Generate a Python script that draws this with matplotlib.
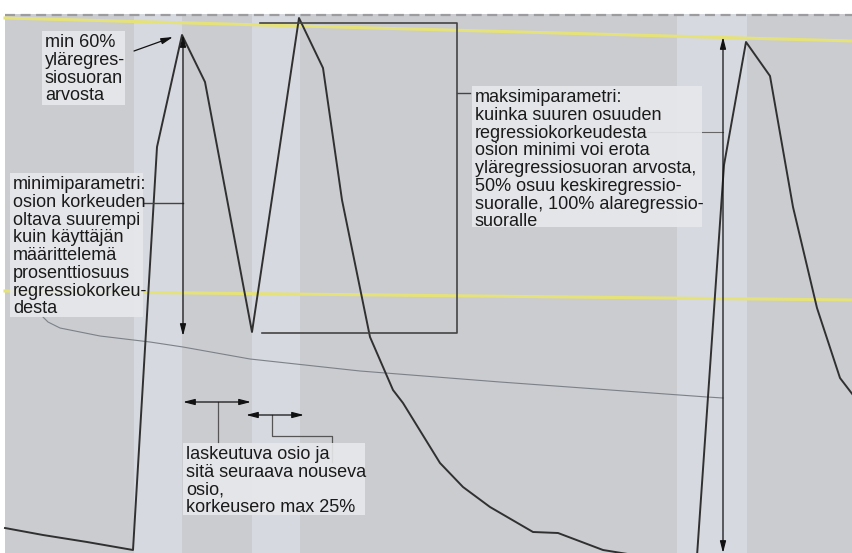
import matplotlib.pyplot as plt
from matplotlib.patches import Rectangle

# everything in pixel units (x to the right, y downwards)
curve_x = [5, 43, 87, 133, 157, 182, 205, 252, 299, 323, 342, 370, 393, 403,
           440, 463, 490, 533, 558, 603, 640]
curve_y = [528, 535, 542, 550, 147, 35, 82, 332, 18, 68, 200, 337, 390, 403,
           463, 487, 507, 532, 533, 550, 556]
right_x = [697, 724, 746, 770, 793, 817, 840, 853]
right_y = [556, 165, 42, 76, 207, 308, 378, 395]

upper_x = [5, 853]
upper_y = [18, 41]
lower_x = [5, 853]
lower_y = [291, 300]
mid_x = [43, 48, 60, 100, 150, 183, 250, 360, 500, 707, 723]
mid_y = [317, 322, 328, 336, 342, 347, 359, 371, 382, 397, 398]

band_left = [134, 252, 677]
band_right = [182, 300, 747]

txt_min60 = "min 60%\nyläregres-\nsiosuoran\narvosta"
txt_minpar = ("minimiparametri:\nosion korkeuden\noltava suurempi\nkuin käyttäjän\n"
              "määrittelemä\nprosenttiosuus\nregressiokorkeu-\ndesta")
txt_maxpar = ("maksimiparametri:\nkuinka suuren osuuden\nregressiokorkeudesta\n"
              "osion minimi voi erota\nyläregressiosuoran arvosta,\n"
              "50% osuu keskiregressio-\nsuoralle, 100% alaregressio-\nsuoralle")
txt_lask = "laskeutuva osio ja\nsitä seuraava nouseva\nosio,\nkorkeusero max 25%"

plt.rcParams['font.family'] = ['Liberation Sans', 'DejaVu Sans']

fig = plt.figure(figsize=(8.53, 5.53), dpi=100)
ax = fig.add_axes([0, 0, 1, 1])
ax.set_xlim(0, 853)
ax.set_ylim(553, 0)
ax.axis('off')

# background + lighter stripes
ax.add_patch(Rectangle((5, 14), 848, 539, fc='#cbccd0', ec='none', zorder=0))
for l, r in zip(band_left, band_right):
    ax.add_patch(Rectangle((l, 14), r - l, 539, fc='#d6d9df', ec='none', zorder=0.5))
ax.plot([5, 853], [15, 15], color='#9d9d9f', lw=1.6, ls=(0, (4.5, 2.5)), zorder=1)

# regression lines
ax.plot(upper_x, upper_y, color='#e6e27a', lw=2.2, zorder=2)
ax.plot(lower_x, lower_y, color='#e6e27a', lw=2.2, zorder=2)
ax.plot(mid_x, mid_y, color='#7c8188', lw=0.8, zorder=2)

# data
ax.plot(curve_x, curve_y, color='#303030', lw=1.4, zorder=3)
ax.plot(right_x, right_y, color='#303030', lw=1.4, zorder=3)

# max-parameter frame and leaders
lc = '#444444'
ax.plot([260, 457, 457, 262], [23, 23, 333, 333], color=lc, lw=1.2, zorder=3)
ax.plot([457, 470], [93, 93], color=lc, lw=1.0, zorder=3)
ax.plot([647, 723], [132, 132], color='#666666', lw=0.8, zorder=3)
ax.plot([143, 183], [203, 203], color=lc, lw=1.0, zorder=3)
ax.plot([218, 218], [402, 443], color='#555555', lw=0.9, zorder=3)
ax.plot([272, 272, 332, 332], [415, 436, 436, 462], color='#555555', lw=0.9, zorder=3)

arr = dict(arrowstyle='<|-|>,head_length=0.7,head_width=0.18', color='#111111',
           lw=0.9, shrinkA=0, shrinkB=0)
ax.annotate('', xy=(723, 37), xytext=(723, 553), arrowprops=arr, zorder=4)
ax.annotate('', xy=(183, 35), xytext=(183, 336), arrowprops=arr, zorder=4)
ax.annotate('', xy=(183, 402), xytext=(251, 402), arrowprops=arr, zorder=4)
ax.annotate('', xy=(246, 415), xytext=(304, 415), arrowprops=arr, zorder=4)
one = dict(arr, arrowstyle='-|>,head_length=0.7,head_width=0.18')
ax.annotate('', xy=(173, 37), xytext=(134, 51), arrowprops=one, zorder=4)

# text boxes
boxes = [(txt_min60, 42, 31, 125, 105),
         (txt_minpar, 10, 173, 143, 317),
         (txt_maxpar, 472, 86, 702, 227),
         (txt_lask, 183, 443, 365, 515)]
for t, x0, y0, x1, y1 in boxes:
    ax.add_patch(Rectangle((x0, y0), x1 - x0, y1 - y0, fc='#e7e8eb', ec='none',
                           alpha=0.9, zorder=5))
    ax.text(x0 + 3, y0 + 3, t, fontsize=13, color='#1a1a1a', va='top', ha='left',
            linespacing=1.06, zorder=6)

fig.savefig('out.png', dpi=100, facecolor='white')
